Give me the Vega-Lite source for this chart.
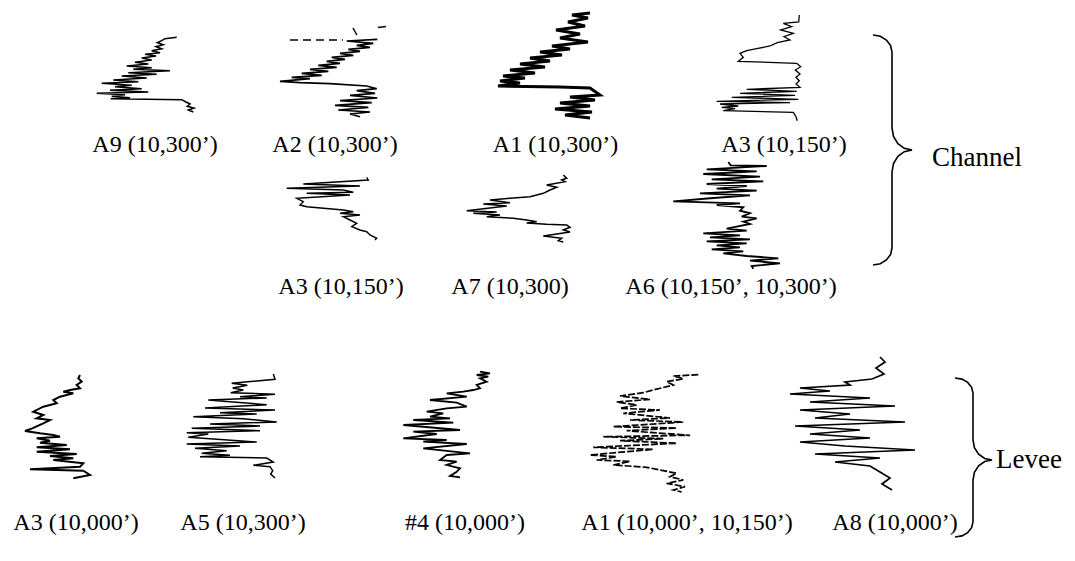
{
  "$schema": "https://vega.github.io/schema/vega-lite/v6.json",
  "background": "white",
  "width": 1075,
  "height": 561,
  "padding": 0,
  "autosize": {"type": "none"},
  "config": {
    "view": {"stroke": null},
    "text": {"font": "Liberation Serif", "fontSize": 24, "color": "black", "align": "center", "baseline": "middle"},
    "line": {"color": "black"}
  },
  "resolve": {"scale": {"x": "independent", "y": "independent"}},
  "datasets": {
    "a9": [{"g":86.7,"d":27.3},{"g":75,"d":28.7},{"g":71.7,"d":30.7},{"g":67.3,"d":32.7},{"g":73.3,"d":34.7},{"g":66,"d":36.7},{"g":71.7,"d":38.7},{"g":61.7,"d":40.7},{"g":70,"d":42.7},{"g":55,"d":44.3},{"g":66,"d":46},{"g":51.7,"d":48},{"g":61.7,"d":50},{"g":45,"d":52.3},{"g":58.3,"d":54},{"g":36.7,"d":56},{"g":61.7,"d":57.7},{"g":43.3,"d":59.3},{"g":80,"d":60.7},{"g":38.3,"d":62.7},{"g":66.7,"d":64.3},{"g":31.7,"d":66},{"g":56.7,"d":68},{"g":23.3,"d":70},{"g":48.3,"d":71.7},{"g":11.7,"d":73.3},{"g":41.7,"d":75.3},{"g":25,"d":76.7},{"g":51.7,"d":78.7},{"g":20,"d":80.3},{"g":58.3,"d":82},{"g":6.7,"d":83.3},{"g":35,"d":84.7},{"g":21.7,"d":86.3},{"g":40,"d":87.7},{"g":20.7,"d":88.7},{"g":91.7,"d":89.7},{"g":96,"d":92},{"g":100,"d":94},{"g":97.3,"d":96.3},{"g":104,"d":98},{"g":98.3,"d":100},{"g":103.3,"d":102}],
    "a2": [{"g":107.3,"d":29.3},{"g":76.7,"d":31},{"g":103.3,"d":33.3},{"g":86.7,"d":35.3},{"g":100,"d":37.3},{"g":78.3,"d":39.3},{"g":90,"d":41.3},{"g":70,"d":43.3},{"g":83.3,"d":45.3},{"g":61.7,"d":47.3},{"g":75,"d":49.3},{"g":56.7,"d":51.3},{"g":70,"d":53.3},{"g":48.3,"d":55.3},{"g":66.7,"d":57.3},{"g":40,"d":59.3},{"g":58.3,"d":61.3},{"g":31.7,"d":63.3},{"g":51.7,"d":65.3},{"g":21.7,"d":67.3},{"g":40,"d":68.7},{"g":10,"d":71.3},{"g":30,"d":72.7},{"g":60,"d":73.7},{"g":96.7,"d":76},{"g":106.7,"d":78.7},{"g":86.7,"d":80.7},{"g":105,"d":83.3},{"g":80,"d":85.3},{"g":107.3,"d":88},{"g":70,"d":90.7},{"g":101.7,"d":92.7},{"g":65,"d":95.3},{"g":98.3,"d":97.3},{"g":68.3,"d":100},{"g":100,"d":102},{"g":80,"d":104},{"g":90,"d":106.7}],
    "a2dash": [{"s":1,"g":20,"d":30},{"s":1,"g":73,"d":30},{"s":2,"g":83,"d":18},{"s":2,"g":88,"d":27},{"s":3,"g":108,"d":17.5},{"s":3,"g":117,"d":16.5}],
    "a1": [{"g":130,"d":3},{"g":112,"d":5},{"g":128,"d":8},{"g":108,"d":12},{"g":125,"d":16},{"g":96,"d":20},{"g":120,"d":24},{"g":100,"d":28},{"g":128,"d":32},{"g":92,"d":36},{"g":110,"d":39},{"g":80,"d":42},{"g":102,"d":45},{"g":70,"d":48},{"g":90,"d":51},{"g":60,"d":54},{"g":85,"d":57},{"g":50,"d":60},{"g":75,"d":63},{"g":43,"d":66},{"g":65,"d":68},{"g":40,"d":71},{"g":60,"d":73},{"g":38,"d":76},{"g":100,"d":77},{"g":130,"d":78},{"g":140,"d":85},{"g":110,"d":87},{"g":135,"d":90},{"g":100,"d":93},{"g":130,"d":96},{"g":95,"d":99},{"g":132,"d":102},{"g":105,"d":105},{"g":130,"d":108}],
    "a3top": [{"g":99.3,"d":5},{"g":98.7,"d":12},{"g":83.3,"d":13.3},{"g":91.7,"d":16.7},{"g":80.7,"d":20},{"g":93.3,"d":23.3},{"g":84,"d":26.7},{"g":90,"d":30},{"g":77.3,"d":32.7},{"g":70,"d":36},{"g":56.7,"d":38.7},{"g":46.7,"d":40.7},{"g":40,"d":43.3},{"g":43.3,"d":47.3},{"g":38.3,"d":51.3},{"g":96.7,"d":53.3},{"g":100.7,"d":56.7},{"g":95.3,"d":60},{"g":100,"d":64},{"g":96,"d":67.3},{"g":99.3,"d":70.7},{"g":96,"d":74},{"g":100,"d":77.3},{"g":46.7,"d":79.3},{"g":96.7,"d":81.3},{"g":40,"d":83.3},{"g":95,"d":85.3},{"g":31.7,"d":87.3},{"g":98.3,"d":89.3},{"g":16.7,"d":91.3},{"g":90,"d":92.7},{"g":20,"d":94},{"g":38.3,"d":96},{"g":21.7,"d":97.3},{"g":35,"d":98.7},{"g":23.3,"d":100.7},{"g":93.3,"d":102.3},{"g":96,"d":106.7},{"g":97.3,"d":110.7}],
    "a3mid": [{"g":91.7,"d":22.3},{"g":93.3,"d":25},{"g":28.3,"d":29},{"g":85,"d":31},{"g":11.7,"d":33.3},{"g":68.3,"d":35},{"g":78.3,"d":37.3},{"g":31.7,"d":38.3},{"g":75,"d":40},{"g":21.7,"d":43.3},{"g":28.3,"d":46.7},{"g":25,"d":50},{"g":31.7,"d":51.7},{"g":68.3,"d":55},{"g":78.3,"d":56.7},{"g":65,"d":58.3},{"g":85,"d":60},{"g":68.3,"d":61.7},{"g":75,"d":65},{"g":81.7,"d":68.3},{"g":76.7,"d":71.7},{"g":85,"d":75},{"g":91.7,"d":76.7},{"g":95,"d":80},{"g":101.7,"d":83.3},{"g":100,"d":85}],
    "a7": [{"g":118.3,"d":20},{"g":121.7,"d":23.3},{"g":116.7,"d":25},{"g":120,"d":26.7},{"g":101.7,"d":30},{"g":111.7,"d":32.3},{"g":105,"d":35},{"g":98.3,"d":38.3},{"g":85,"d":41.7},{"g":65,"d":43.3},{"g":45,"d":45},{"g":65,"d":47.7},{"g":38.3,"d":49},{"g":61.7,"d":51},{"g":21.7,"d":55.7},{"g":51.7,"d":57},{"g":28.3,"d":58.3},{"g":55,"d":60},{"g":41.7,"d":61.7},{"g":68.3,"d":63.3},{"g":81.7,"d":65},{"g":91.7,"d":66.7},{"g":81.7,"d":68},{"g":101.7,"d":69.3},{"g":121.7,"d":70},{"g":125,"d":72.3},{"g":118.3,"d":75},{"g":125,"d":77},{"g":111.7,"d":79},{"g":98.3,"d":81},{"g":116.7,"d":83.3},{"g":113.3,"d":85.7},{"g":118.3,"d":87}],
    "a6": [{"g":68.3,"d":7},{"g":70.7,"d":10.3},{"g":106.7,"d":11},{"g":46.7,"d":14.3},{"g":96.7,"d":16.3},{"g":43.3,"d":19},{"g":100,"d":21.7},{"g":51.7,"d":24.3},{"g":103.3,"d":26.3},{"g":46.7,"d":29},{"g":86.7,"d":31},{"g":56.7,"d":33.7},{"g":96.7,"d":35.7},{"g":40,"d":38.3},{"g":90,"d":40.3},{"g":53.3,"d":43},{"g":13.3,"d":46.3},{"g":80,"d":48.3},{"g":56.7,"d":50},{"g":83.3,"d":52.3},{"g":80,"d":55.7},{"g":90,"d":58.3},{"g":81.7,"d":61.7},{"g":96.7,"d":63.3},{"g":83.3,"d":66.7},{"g":90,"d":69},{"g":76.7,"d":71.7},{"g":66.7,"d":73.7},{"g":86.7,"d":75.7},{"g":43.3,"d":78.3},{"g":80,"d":80.3},{"g":50,"d":82.3},{"g":90,"d":84.3},{"g":46.7,"d":86.3},{"g":86.7,"d":88.3},{"g":56.7,"d":90.3},{"g":80,"d":92.3},{"g":51.7,"d":94.3},{"g":83.3,"d":96.3},{"g":63.3,"d":98.3},{"g":86.7,"d":101},{"g":118.3,"d":103.3},{"g":90,"d":105.7},{"g":120,"d":108.3},{"g":91.7,"d":111},{"g":93.3,"d":113.7}],
    "l_a3": [{"g":65,"d":25},{"g":63.3,"d":28.3},{"g":66.7,"d":31.7},{"g":61.7,"d":35},{"g":65,"d":38.3},{"g":55,"d":40},{"g":48.3,"d":41.7},{"g":58.3,"d":43.3},{"g":45,"d":46.7},{"g":38.3,"d":50},{"g":41.7,"d":53.3},{"g":28.3,"d":56.7},{"g":18.3,"d":61.7},{"g":28.3,"d":65},{"g":21.7,"d":68.3},{"g":35,"d":70},{"g":28.3,"d":73.3},{"g":15,"d":79.3},{"g":10,"d":81},{"g":25,"d":83.3},{"g":38.3,"d":85},{"g":45,"d":86.7},{"g":21.7,"d":88.3},{"g":35,"d":90.7},{"g":25,"d":92.7},{"g":51.7,"d":95},{"g":21.7,"d":97.3},{"g":55,"d":99.3},{"g":21.7,"d":101.7},{"g":61.7,"d":104},{"g":35,"d":106},{"g":58.3,"d":108.3},{"g":38.3,"d":110},{"g":68.3,"d":113.3},{"g":65,"d":116.7},{"g":15,"d":119.3},{"g":68.3,"d":120.7},{"g":75,"d":125},{"g":58.3,"d":128.3}],
    "l_a5": [{"g":103.3,"d":24},{"g":105,"d":29.3},{"g":61.7,"d":33.3},{"g":77.3,"d":35.3},{"g":62.7,"d":38},{"g":73.3,"d":40},{"g":60.7,"d":42.7},{"g":105,"d":44.3},{"g":70,"d":46.7},{"g":96.7,"d":48},{"g":38.3,"d":50},{"g":53.3,"d":51.3},{"g":96.7,"d":54.7},{"g":35,"d":58},{"g":105,"d":60},{"g":50,"d":62.7},{"g":86.7,"d":64},{"g":23.3,"d":66.7},{"g":73.3,"d":68.7},{"g":106.7,"d":72},{"g":40,"d":74},{"g":90,"d":76},{"g":21.7,"d":78.3},{"g":90,"d":80.7},{"g":16.7,"d":82.7},{"g":38.3,"d":84},{"g":18.3,"d":87.3},{"g":86.7,"d":92},{"g":16.7,"d":94},{"g":70,"d":96},{"g":25,"d":98.3},{"g":56.7,"d":100.7},{"g":31.7,"d":103.3},{"g":60,"d":105.3},{"g":30,"d":106.7},{"g":96.7,"d":108},{"g":103.3,"d":112},{"g":83.3,"d":115.3},{"g":100,"d":116.7},{"g":102.7,"d":120.7},{"g":100.7,"d":124},{"g":105,"d":128}],
    "l_n4": [{"g":90,"d":21.7},{"g":100,"d":23.3},{"g":86.7,"d":25},{"g":98.3,"d":26.7},{"g":90,"d":28.3},{"g":96.7,"d":31.7},{"g":86.7,"d":35},{"g":90,"d":38.3},{"g":83.3,"d":40},{"g":73.3,"d":41.7},{"g":56.7,"d":43.3},{"g":76.7,"d":46.7},{"g":40,"d":50},{"g":66.7,"d":52.7},{"g":76.7,"d":56.7},{"g":56.7,"d":58.3},{"g":36.7,"d":61.7},{"g":53.3,"d":63.3},{"g":40,"d":66.7},{"g":60,"d":68.3},{"g":23.3,"d":70},{"g":63.3,"d":72.7},{"g":13.3,"d":75},{"g":70,"d":80},{"g":23.3,"d":81.7},{"g":46.7,"d":84},{"g":13.3,"d":88.3},{"g":56.7,"d":90},{"g":33.3,"d":91.7},{"g":76.7,"d":94},{"g":33.3,"d":98.3},{"g":80,"d":103.3},{"g":56.7,"d":105},{"g":50,"d":110},{"g":66.7,"d":111.7},{"g":56.7,"d":115},{"g":70,"d":118.3},{"g":66.7,"d":121.7},{"g":60,"d":126},{"g":70,"d":127.3}],
    "l_a1": [{"g":118.3,"d":24.7},{"g":93.3,"d":26},{"g":103.3,"d":28.7},{"g":86.7,"d":31.7},{"g":93.3,"d":35},{"g":73.3,"d":40},{"g":63.3,"d":42.7},{"g":40,"d":46},{"g":70,"d":49.3},{"g":36.7,"d":52},{"g":56.7,"d":55},{"g":40,"d":58.3},{"g":80,"d":60},{"g":43.3,"d":63.3},{"g":90,"d":68},{"g":50,"d":70},{"g":103.3,"d":72},{"g":33.3,"d":76.7},{"g":96.7,"d":78},{"g":46.7,"d":80.7},{"g":110,"d":85.3},{"g":23.3,"d":86.7},{"g":83.3,"d":88.7},{"g":40,"d":90.7},{"g":96.7,"d":93.3},{"g":13.3,"d":97.3},{"g":73.3,"d":99.3},{"g":10,"d":105},{"g":36.7,"d":106.7},{"g":16.7,"d":110},{"g":50,"d":111.3},{"g":33.3,"d":115},{"g":66.7,"d":117.3},{"g":83.3,"d":120.7},{"g":96.7,"d":123.3},{"g":90,"d":126.7},{"g":103.3,"d":130},{"g":86.7,"d":133.3},{"g":105,"d":136.7},{"g":93.3,"d":140},{"g":101.7,"d":142}],
    "l_a8": [{"g":100,"d":7},{"g":105,"d":12},{"g":96,"d":18},{"g":104,"d":24},{"g":92,"d":29},{"g":65,"d":32},{"g":70,"d":35},{"g":20,"d":38},{"g":50,"d":41},{"g":10,"d":44},{"g":90,"d":48},{"g":30,"d":52},{"g":115,"d":56},{"g":20,"d":60},{"g":70,"d":64},{"g":35,"d":68},{"g":125,"d":72},{"g":15,"d":76},{"g":80,"d":80},{"g":30,"d":84},{"g":90,"d":88},{"g":20,"d":92},{"g":65,"d":96},{"g":135,"d":100},{"g":35,"d":104},{"g":100,"d":108},{"g":55,"d":112},{"g":90,"d":116},{"g":100,"d":122},{"g":110,"d":128},{"g":102,"d":134},{"g":112,"d":140}],
    "braceChannel": [{"bx":3,"by":25},{"bx":10.3,"by":26.3},{"bx":16.4,"by":30},{"bx":20.6,"by":35.5},{"bx":22,"by":42},{"bx":22,"by":118},{"bx":23.5,"by":126.4},{"bx":27.9,"by":133.6},{"bx":34.3,"by":138.3},{"bx":42,"by":140},{"bx":34.3,"by":141.7},{"bx":27.9,"by":146.4},{"bx":23.5,"by":153.6},{"bx":22,"by":162},{"bx":22,"by":238},{"bx":20.6,"by":244.5},{"bx":16.4,"by":250},{"bx":10.3,"by":253.7},{"bx":3,"by":255}],
    "braceLevee": [{"bx":5,"by":28},{"bx":11.9,"by":29.1},{"bx":17.7,"by":32.4},{"bx":21.6,"by":37.3},{"bx":23,"by":43},{"bx":23,"by":90},{"bx":24.4,"by":97.7},{"bx":28.6,"by":104.1},{"bx":34.7,"by":108.5},{"bx":42,"by":110},{"bx":34.7,"by":111.5},{"bx":28.6,"by":115.9},{"bx":24.4,"by":122.3},{"bx":23,"by":130},{"bx":23,"by":172},{"bx":21.6,"by":177.7},{"bx":17.7,"by":182.6},{"bx":11.9,"by":185.9},{"bx":5,"by":187}]
  },
  "layer": [
    {"layer": [
      {"data": {"name": "a9"}, "mark": {"type": "line", "strokeWidth": 1.5},
       "encoding": {"x": {"field": "g", "type": "quantitative", "scale": {"domain": [-90, 985], "nice": false, "zero": false}, "axis": null},
                    "y": {"field": "d", "type": "quantitative", "scale": {"domain": [-10, 551], "nice": false, "zero": false, "reverse": true}, "axis": null},
                    "order": {"field": "d", "type": "quantitative"}}},
      {"data": {"values": [{"label": "A9 (10,300’)"}]}, "mark": "text",
       "encoding": {"text": {"field": "label"}, "x": {"datum": 65}, "y": {"datum": 135}}}
    ]},
    {"layer": [
      {"data": {"name": "a2"}, "mark": {"type": "line", "strokeWidth": 1.7},
       "encoding": {"x": {"field": "g", "type": "quantitative", "scale": {"domain": [-270, 805], "nice": false, "zero": false}, "axis": null},
                    "y": {"field": "d", "type": "quantitative", "scale": {"domain": [-10, 551], "nice": false, "zero": false, "reverse": true}, "axis": null},
                    "order": {"field": "d", "type": "quantitative"}}},
      {"data": {"name": "a2dash"}, "mark": {"type": "line", "strokeWidth": 1.5, "strokeDash": [8, 5]},
       "encoding": {"x": {"field": "g", "type": "quantitative"}, "y": {"field": "d", "type": "quantitative"}, "detail": {"field": "s", "type": "nominal"}}},
      {"data": {"values": [{"label": "A2 (10,300’)"}]}, "mark": "text",
       "encoding": {"text": {"field": "label"}, "x": {"datum": 65}, "y": {"datum": 135}}}
    ]},
    {"layer": [
      {"data": {"name": "a1"}, "mark": {"type": "line", "strokeWidth": 3},
       "encoding": {"x": {"field": "g", "type": "quantitative", "scale": {"domain": [-460, 615], "nice": false, "zero": false}, "axis": null},
                    "y": {"field": "d", "type": "quantitative", "scale": {"domain": [-10, 551], "nice": false, "zero": false, "reverse": true}, "axis": null},
                    "order": {"field": "d", "type": "quantitative"}}},
      {"data": {"values": [{"label": "A1 (10,300’)"}]}, "mark": "text",
       "encoding": {"text": {"field": "label"}, "x": {"datum": 95.5}, "y": {"datum": 135}}}
    ]},
    {"layer": [
      {"data": {"name": "a3top"}, "mark": {"type": "line", "strokeWidth": 1.3},
       "encoding": {"x": {"field": "g", "type": "quantitative", "scale": {"domain": [-700, 375], "nice": false, "zero": false}, "axis": null},
                    "y": {"field": "d", "type": "quantitative", "scale": {"domain": [-10, 551], "nice": false, "zero": false, "reverse": true}, "axis": null},
                    "order": {"field": "d", "type": "quantitative"}}},
      {"data": {"values": [{"label": "A3 (10,150’)"}]}, "mark": "text",
       "encoding": {"text": {"field": "label"}, "x": {"datum": 84}, "y": {"datum": 135}}}
    ]},
    {"layer": [
      {"data": {"name": "a3mid"}, "mark": {"type": "line", "strokeWidth": 1.4},
       "encoding": {"x": {"field": "g", "type": "quantitative", "scale": {"domain": [-275, 800], "nice": false, "zero": false}, "axis": null},
                    "y": {"field": "d", "type": "quantitative", "scale": {"domain": [-155, 406], "nice": false, "zero": false, "reverse": true}, "axis": null},
                    "order": {"field": "d", "type": "quantitative"}}},
      {"data": {"values": [{"label": "A3 (10,150’)"}]}, "mark": "text",
       "encoding": {"text": {"field": "label"}, "x": {"datum": 66}, "y": {"datum": 132}}}
    ]},
    {"layer": [
      {"data": {"name": "a7"}, "mark": {"type": "line", "strokeWidth": 1.5},
       "encoding": {"x": {"field": "g", "type": "quantitative", "scale": {"domain": [-445, 630], "nice": false, "zero": false}, "axis": null},
                    "y": {"field": "d", "type": "quantitative", "scale": {"domain": [-155, 406], "nice": false, "zero": false, "reverse": true}, "axis": null},
                    "order": {"field": "d", "type": "quantitative"}}},
      {"data": {"values": [{"label": "A7 (10,300)"}]}, "mark": "text",
       "encoding": {"text": {"field": "label"}, "x": {"datum": 65}, "y": {"datum": 132}}}
    ]},
    {"layer": [
      {"data": {"name": "a6"}, "mark": {"type": "line", "strokeWidth": 1.8},
       "encoding": {"x": {"field": "g", "type": "quantitative", "scale": {"domain": [-660, 415], "nice": false, "zero": false}, "axis": null},
                    "y": {"field": "d", "type": "quantitative", "scale": {"domain": [-155, 406], "nice": false, "zero": false, "reverse": true}, "axis": null},
                    "order": {"field": "d", "type": "quantitative"}}},
      {"data": {"values": [{"label": "A6 (10,150’, 10,300’)"}]}, "mark": "text",
       "encoding": {"text": {"field": "label"}, "x": {"datum": 71}, "y": {"datum": 132}}}
    ]},
    {"layer": [
      {"data": {"name": "braceChannel"}, "mark": {"type": "line", "strokeWidth": 1.6},
       "encoding": {"x": {"field": "bx", "type": "quantitative", "scale": {"domain": [-870, 205], "nice": false, "zero": false}, "axis": null},
                    "y": {"field": "by", "type": "quantitative", "scale": {"domain": [-10, 551], "nice": false, "zero": false, "reverse": true}, "axis": null},
                    "order": {"field": "by", "type": "quantitative"}}},
      {"data": {"values": [{"label": "Channel"}]}, "mark": {"type": "text", "align": "left", "fontSize": 27},
       "encoding": {"text": {"field": "label"}, "x": {"datum": 62}, "y": {"datum": 148}}}
    ]},
    {"layer": [
      {"data": {"name": "l_a3"}, "mark": {"type": "line", "strokeWidth": 2},
       "encoding": {"x": {"field": "g", "type": "quantitative", "scale": {"domain": [-15, 1060], "nice": false, "zero": false}, "axis": null},
                    "y": {"field": "d", "type": "quantitative", "scale": {"domain": [-350, 211], "nice": false, "zero": false, "reverse": true}, "axis": null},
                    "order": {"field": "d", "type": "quantitative"}}},
      {"data": {"values": [{"label": "A3 (10,000’)"}]}, "mark": "text",
       "encoding": {"text": {"field": "label"}, "x": {"datum": 61}, "y": {"datum": 173}}}
    ]},
    {"layer": [
      {"data": {"name": "l_a5"}, "mark": {"type": "line", "strokeWidth": 1.5},
       "encoding": {"x": {"field": "g", "type": "quantitative", "scale": {"domain": [-170, 905], "nice": false, "zero": false}, "axis": null},
                    "y": {"field": "d", "type": "quantitative", "scale": {"domain": [-350, 211], "nice": false, "zero": false, "reverse": true}, "axis": null},
                    "order": {"field": "d", "type": "quantitative"}}},
      {"data": {"values": [{"label": "A5 (10,300’)"}]}, "mark": "text",
       "encoding": {"text": {"field": "label"}, "x": {"datum": 73}, "y": {"datum": 173}}}
    ]},
    {"layer": [
      {"data": {"name": "l_n4"}, "mark": {"type": "line", "strokeWidth": 1.8},
       "encoding": {"x": {"field": "g", "type": "quantitative", "scale": {"domain": [-390, 685], "nice": false, "zero": false}, "axis": null},
                    "y": {"field": "d", "type": "quantitative", "scale": {"domain": [-350, 211], "nice": false, "zero": false, "reverse": true}, "axis": null},
                    "order": {"field": "d", "type": "quantitative"}}},
      {"data": {"values": [{"label": "#4 (10,000’)"}]}, "mark": "text",
       "encoding": {"text": {"field": "label"}, "x": {"datum": 75}, "y": {"datum": 173}}}
    ]},
    {"layer": [
      {"data": {"name": "l_a1"}, "mark": {"type": "line", "strokeWidth": 1.7, "strokeDash": [7, 2]},
       "encoding": {"x": {"field": "g", "type": "quantitative", "scale": {"domain": [-580, 495], "nice": false, "zero": false}, "axis": null},
                    "y": {"field": "d", "type": "quantitative", "scale": {"domain": [-350, 211], "nice": false, "zero": false, "reverse": true}, "axis": null},
                    "order": {"field": "d", "type": "quantitative"}}},
      {"data": {"values": [{"label": "A1 (10,000’, 10,150’)"}]}, "mark": "text",
       "encoding": {"text": {"field": "label"}, "x": {"datum": 107}, "y": {"datum": 173}}}
    ]},
    {"layer": [
      {"data": {"name": "l_a8"}, "mark": {"type": "line", "strokeWidth": 1.7},
       "encoding": {"x": {"field": "g", "type": "quantitative", "scale": {"domain": [-780, 295], "nice": false, "zero": false}, "axis": null},
                    "y": {"field": "d", "type": "quantitative", "scale": {"domain": [-350, 211], "nice": false, "zero": false, "reverse": true}, "axis": null},
                    "order": {"field": "d", "type": "quantitative"}}},
      {"data": {"values": [{"label": "A8 (10,000’)"}]}, "mark": "text",
       "encoding": {"text": {"field": "label"}, "x": {"datum": 115}, "y": {"datum": 173}}}
    ]},
    {"layer": [
      {"data": {"name": "braceLevee"}, "mark": {"type": "line", "strokeWidth": 1.6},
       "encoding": {"x": {"field": "bx", "type": "quantitative", "scale": {"domain": [-950, 125], "nice": false, "zero": false}, "axis": null},
                    "y": {"field": "by", "type": "quantitative", "scale": {"domain": [-350, 211], "nice": false, "zero": false, "reverse": true}, "axis": null},
                    "order": {"field": "by", "type": "quantitative"}}},
      {"data": {"values": [{"label": "Levee"}]}, "mark": {"type": "text", "align": "left", "fontSize": 27},
       "encoding": {"text": {"field": "label"}, "x": {"datum": 46}, "y": {"datum": 110}}}
    ]}
  ]
}
